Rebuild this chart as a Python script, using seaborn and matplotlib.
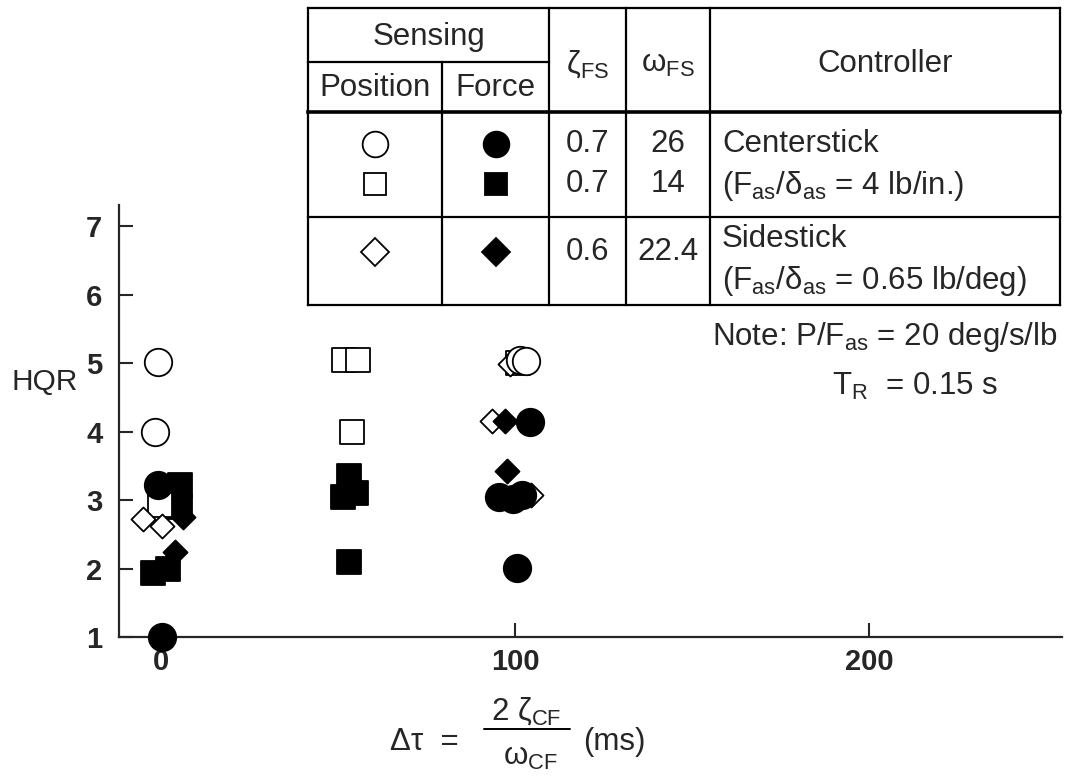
import matplotlib
matplotlib.use("Agg")
import matplotlib.pyplot as plt
import seaborn as sns
import pandas as pd
from matplotlib.lines import Line2D

# ---- ratings (x = delta tau in ms, y = HQR) ----
circ_open_x = [-0.8, -1.7, 101.5, 103.0]
circ_open_y = [5.02, 4.00, 5.05, 5.03]
circ_fill_x = [-0.8, 0.2, 104.2, 95.5, 99.5, 102.0, 100.5]
circ_fill_y = [3.22, 1.00, 4.14, 3.05, 3.02, 3.07, 2.01]
sq_open_x = [-0.3, 51.8, 55.6, 54.0, 100.8]
sq_open_y = [2.93, 5.05, 5.05, 4.00, 5.00]
sq_fill_x = [5.4, 5.4, -2.4, 2.0, 53.2, 51.3, 55.1, 53.1]
sq_fill_y = [3.22, 2.90, 1.94, 2.00, 3.35, 3.05, 3.10, 2.09]
dia_open_x = [-5.0, 0.2, 98.6, 93.4, 104.5]
dia_open_y = [2.72, 2.62, 4.99, 4.16, 3.07]
dia_fill_x = [6.3, 4.0, 97.2, 97.7]
dia_fill_y = [2.75, 2.24, 4.16, 3.43]

y_ticks = [1, 2, 3, 4, 5, 6, 7]
x_ticks = [0, 100, 200]

# ---- legend table contents ----
zeta_vals = ["0.7", "0.7", "0.6"]
omega_vals = ["26", "14", "22.4"]
controller_lines = ["Centerstick", "(F$_{as}$/δ$_{as}$ = 4 lb/in.)",
                    "Sidestick", "(F$_{as}$/δ$_{as}$ = 0.65 lb/deg)"]

sns.set_theme(style="ticks")
plt.rcParams['font.family'] = ['Liberation Sans', 'DejaVu Sans']
plt.rcParams['mathtext.fontset'] = 'custom'
plt.rcParams['mathtext.rm'] = 'Liberation Sans'
plt.rcParams['mathtext.it'] = 'Liberation Sans:italic'
plt.rcParams['mathtext.default'] = 'regular'

W, H = 1068, 778
fig = plt.figure(figsize=(W / 100, H / 100), dpi=100)


def fx(px):
    return px / W


def fy(py):
    return 1 - py / H


ax = fig.add_axes([fx(119), fy(637), (1062 - 119) / W, (637 - 205) / H])

series = [
    (sq_fill_x, sq_fill_y, 's', 300, 'black'),
    (sq_open_x, sq_open_y, 's', 300, 'white'),
    (dia_open_x, dia_open_y, 'D', 150, 'white'),
    (dia_fill_x, dia_fill_y, 'D', 150, 'black'),
    (circ_fill_x, circ_fill_y, 'o', 390, 'black'),
    (circ_open_x, circ_open_y, 'o', 390, 'white'),
]
for i, (xs, ys, mk, sz, fc) in enumerate(series):
    df = pd.DataFrame({"dt": xs, "hqr": ys})
    sns.scatterplot(data=df, x="dt", y="hqr", ax=ax, marker=mk, s=sz,
                    facecolor=fc, edgecolor='black', linewidth=1.3,
                    clip_on=False, zorder=3 + i, legend=False)

ax.set_xlim(-11.9, 254.5)
ax.set_ylim(1, 7.31)
ax.set_xticks(x_ticks)
ax.set_yticks(y_ticks)
ax.set_xticklabels([str(v) for v in x_ticks])
ax.set_yticklabels([str(v) for v in y_ticks])
ax.set_xlabel("")
ax.set_ylabel("")
sns.despine(ax=ax)
for sp in ("left", "bottom"):
    ax.spines[sp].set_linewidth(1.6)
ax.tick_params(axis='both', direction='in', length=10, width=1.5,
               labelsize=21)
ax.tick_params(axis='y', pad=12)
ax.tick_params(axis='x', pad=8)
for lab in ax.get_xticklabels() + ax.get_yticklabels():
    lab.set_fontweight('bold')

fs = 22.5
fig.text(fx(12), fy(382), "HQR", fontsize=21.5, ha='left', va='center')

# x-axis label: delta tau = 2 zeta_CF / omega_CF (ms)
fig.text(fx(390), fy(742), "Δτ  =", fontsize=fs, ha='left', va='center')
fig.text(fx(526), fy(711), "2 ζ$_{CF}$", fontsize=fs, ha='center', va='center')
fig.add_artist(Line2D([fx(484), fx(570)], [fy(729), fy(729)],
                      transform=fig.transFigure, color='black', lw=1.4))
fig.text(fx(530), fy(757), "ω$_{CF}$", fontsize=fs, ha='center', va='center')
fig.text(fx(583), fy(742), "(ms)", fontsize=fs, ha='left', va='center')

# notes
fig.text(fx(1057), fy(337), "Note: P/F$_{as}$ = 20 deg/s/lb", fontsize=fs,
         ha='right', va='center')
fig.text(fx(832), fy(386), "T$_R$  = 0.15 s", fontsize=fs, ha='left',
         va='center')

# ---- legend table ----
TL, TR, TT, TB = 308, 1060, 8, 305
c_pf, c_sens, c_zw, c_wc = 442, 549, 626, 710
r_sens, r_head, r_row = 62, 112, 217


def seg(x0, y0, x1, y1, lw=1.6):
    fig.add_artist(Line2D([fx(x0), fx(x1)], [fy(y0), fy(y1)],
                          transform=fig.transFigure, color='black', lw=lw,
                          solid_capstyle='projecting'))


seg(TL, TT, TR, TT)
seg(TL, TB, TR, TB)
seg(TL, TT, TL, TB)
seg(TR, TT, TR, TB)
seg(TL, r_sens, c_sens, r_sens)
seg(TL, r_head, TR, r_head, lw=2.6)
seg(TL, r_row, TR, r_row)
seg(c_pf, r_sens, c_pf, TB)
for cx in (c_sens, c_zw, c_wc):
    seg(cx, TT, cx, TB)

fig.text(fx((TL + c_sens) / 2), fy(37), "Sensing", fontsize=fs, ha='center', va='center')
fig.text(fx((TL + c_pf) / 2), fy(88), "Position", fontsize=fs, ha='center', va='center')
fig.text(fx((c_pf + c_sens) / 2), fy(88), "Force", fontsize=fs, ha='center', va='center')
fig.text(fx((c_sens + c_zw) / 2), fy(64), "ζ$_{FS}$", fontsize=fs, ha='center', va='center')
fig.text(fx((c_zw + c_wc) / 2), fy(64), "ω$_{FS}$", fontsize=fs, ha='center', va='center')
fig.text(fx((c_wc + TR) / 2), fy(64), "Controller", fontsize=fs, ha='center', va='center')

row_y = [144, 184, 252]
for yv, zv, wv in zip(row_y, zeta_vals, omega_vals):
    fig.text(fx((c_sens + c_zw) / 2), fy(yv), zv, fontsize=fs, ha='center', va='center')
    fig.text(fx((c_zw + c_wc) / 2), fy(yv), wv, fontsize=fs, ha='center', va='center')

ctrl_y = [144, 186, 239, 281]
for yv, txt in zip(ctrl_y, controller_lines):
    fig.text(fx(c_wc + 12), fy(yv), txt, fontsize=fs, ha='left', va='center')

legend_marks = [('o', 18.5, row_y[0]), ('s', 16.5, row_y[1]), ('D', 14, row_y[2])]
for mk, ms, yv in legend_marks:
    for cx, fc in (((TL + c_pf) / 2, 'white'), ((c_pf + c_sens) / 2, 'black')):
        fig.add_artist(Line2D([fx(cx)], [fy(yv)], transform=fig.transFigure,
                              marker=mk, markersize=ms, markerfacecolor=fc,
                              markeredgecolor='black', markeredgewidth=1.3,
                              linestyle='none'))

fig.savefig("out.png", dpi=100)
